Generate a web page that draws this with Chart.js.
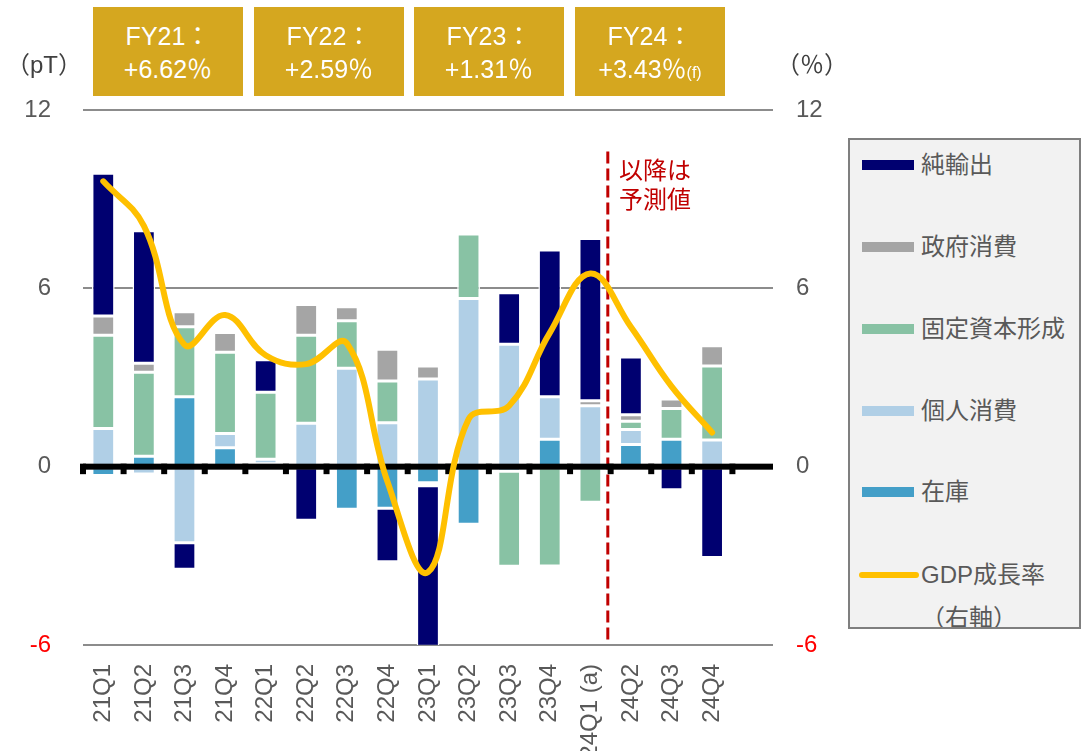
<!DOCTYPE html>
<html><head><meta charset="utf-8">
<script src="https://cdn.jsdelivr.net/npm/chart.js@4.4.1/dist/chart.umd.min.js"></script>
<style>
html,body{margin:0;padding:0;background:#fff;}
body{width:1081px;height:751px;position:relative;overflow:hidden;font-family:"Liberation Sans","Noto Sans CJK JP",sans-serif;}
#c{position:absolute;left:0;top:0;}
.fy{position:absolute;top:7px;width:150px;height:89px;background:#D5A71F;color:#fff;font-size:25px;text-align:center;line-height:33px;padding-top:13px;box-sizing:border-box;white-space:nowrap;}
.fy small{font-size:16px;}
.unit{position:absolute;top:50px;font-size:24px;color:#404040;line-height:30px;white-space:nowrap;}
#legend{position:absolute;left:848px;top:138px;width:233px;height:491px;box-sizing:border-box;border:2px solid #7f7f7f;background:#f2f2f2;overflow:hidden;}
.li{position:absolute;left:0;height:30px;line-height:30px;font-size:24px;color:#595959;white-space:nowrap;}
.sw{position:absolute;left:12px;top:10px;width:52px;height:10px;}
.li span.t{position:absolute;left:71px;top:0;}
.note{position:absolute;left:619px;top:156px;font-size:24px;line-height:29px;color:#C00000;white-space:nowrap;}
</style></head>
<body>
<canvas id="c" width="1081" height="751"></canvas>
<div class="fy" style="left:93px">FY21：<br>+6.62％</div>
<div class="fy" style="left:254px">FY22：<br>+2.59％</div>
<div class="fy" style="left:414px">FY23：<br>+1.31％</div>
<div class="fy" style="left:575px">FY24：<br>+3.43％<small>(f)</small></div>
<div class="unit" style="left:6px">（pT）</div>
<div class="unit" style="left:776px">（％）</div>
<div class="note">以降は<br>予測値</div>
<div id="legend"></div>
<script>
// ---- data ----
const categories = ['21Q1','21Q2','21Q3','21Q4','22Q1','22Q2','22Q3','22Q4','23Q1','23Q2','23Q3','23Q4','24Q1 (a)','24Q2','24Q3','24Q4',''];
const inventory   = [-0.30, 0.35, 2.35, 0.64, 0.10, 0.00, -1.43, -1.40, -0.54, -1.94, -0.15, 0.92, 0.00, 0.75, 0.92, 0.00];
const privateCons = [1.28, -0.25, -2.56, 0.48, 0.15, 1.46, 3.31, 1.48, 2.95, 5.66, 4.12, 1.43, 2.05, 0.50, 0.00, 0.90];
const fixedCap    = [3.14, 2.83, 2.36, 2.73, 2.25, 2.96, 1.60, 1.40, -0.10, 2.17, -3.20, -3.34, -1.20, 0.28, 1.04, 2.49];
const govCons     = [0.65, 0.30, 0.50, 0.66, 0.00, 1.04, 0.47, 1.07, 0.44, 0.00, 0.00, 0.00, 0.17, 0.22, 0.32, 0.68];
const netExports  = [4.80, 4.46, -0.89, 0.00, 1.10, -1.80, 0.00, -1.80, -5.40, 0.00, 1.73, 4.94, 5.46, 1.94, -0.78, -3.06];
const gdpGrowth   = [9.6, 8.1, 4.1, 5.1, 3.75, 3.45, 4.15, -0.5, -3.55, 1.6, 2.05, 4.5, 6.5, 4.7, 2.7, 1.15];
const yTicks = [-6, 0, 6, 12];
const seriesNames = ['在庫','個人消費','固定資本形成','政府消費','純輸出','GDP成長率'];
const colors = {inv:'#449FC8', pc:'#B0CFE6', fc:'#88C2A4', gov:'#A5A5A5', net:'#000070', gdp:'#FFC000'};

const FONT = '"Liberation Sans","Noto Sans CJK JP",sans-serif';
const TXT = '#595959';

// legend (HTML)
const legendItems = [
  {name:'純輸出', c:colors.net, y:165},
  {name:'政府消費', c:colors.gov, y:247},
  {name:'固定資本形成', c:colors.fc, y:329},
  {name:'個人消費', c:colors.pc, y:411},
  {name:'在庫', c:colors.inv, y:492},
];
const lg = document.getElementById('legend');
legendItems.forEach(it=>{
  const d=document.createElement('div'); d.className='li'; d.style.top=(it.y-140-15)+'px';
  d.innerHTML='<div class="sw" style="background:'+it.c+'"></div><span class="t">'+it.name+'</span>';
  lg.appendChild(d);
});
(function(){
  const d=document.createElement('div'); d.className='li'; d.style.top=(575-140-15)+'px';
  d.innerHTML='<div class="sw" style="background:'+colors.gdp+';left:9px;width:60px;height:6px;top:12px;border-radius:3px"></div><span class="t">GDP成長率</span>';
  lg.appendChild(d);
  const e=document.createElement('div'); e.className='li'; e.style.top=(618-140-15)+'px';
  e.innerHTML='<span class="t">（右軸）</span>';
  lg.appendChild(e);
})();

const overlay = {
  id:'overlay',
  beforeDatasetDraw(chart, args){
    if(args.meta.type!=='line') return;
    const ctx=chart.ctx, x=chart.scales.x, y=chart.scales.y;
    const y0=y.getPixelForValue(0);
    ctx.save();
    // forecast divider
    const xa=x.getPixelForValue(12), xb=x.getPixelForValue(13);
    const xd=xa+0.43*(xb-xa);
    ctx.strokeStyle='#C00000'; ctx.lineWidth=3; ctx.setLineDash([12,5]);
    ctx.beginPath(); ctx.moveTo(xd,y.getPixelForValue(10.6)); ctx.lineTo(xd,y.getPixelForValue(-5.85)); ctx.stroke();
    ctx.setLineDash([]);
    // zero line
    ctx.fillStyle='#000';
    ctx.fillRect(x.left, y0-3, x.right-x.left, 6);
    const w=(x.getPixelForValue(1)-x.getPixelForValue(0));
    for(let i=0;i<categories.length;i++){
      const bx=x.getPixelForValue(i)-w/2;
      ctx.fillRect(bx-3, y0-3, 6, 10.5);
    }
    ctx.restore();
  }
};

const barDs = (label, data, color) => ({
  type:'bar', label, data, backgroundColor:color, borderColor:'#ffffff', borderWidth:1.5,
  borderSkipped:false, stack:'s', yAxisID:'y', order:1,
  barPercentage:0.56, categoryPercentage:1.0
});

new Chart(document.getElementById('c'), {
  data:{
    labels:categories,
    datasets:[
      barDs(seriesNames[0], inventory, colors.inv),
      barDs(seriesNames[1], privateCons, colors.pc),
      barDs(seriesNames[2], fixedCap, colors.fc),
      barDs(seriesNames[3], govCons, colors.gov),
      barDs(seriesNames[4], netExports, colors.net),
      {type:'line', label:seriesNames[5], data:gdpGrowth, yAxisID:'y1', borderColor:colors.gdp,
       borderWidth:6, pointRadius:0, tension:0.4, fill:false, order:0, borderCapStyle:'round', borderJoinStyle:'round'}
    ]
  },
  options:{
    responsive:false, animation:false, devicePixelRatio:1,
    layout:{padding:{top:110,left:0,right:0,bottom:0}},
    plugins:{legend:{display:false}, tooltip:{enabled:false}},
    scales:{
      x:{
        stacked:true, offset:true,
        grid:{display:false, drawTicks:false}, border:{display:false},
        ticks:{color:TXT, font:{family:FONT,size:24}, minRotation:90, maxRotation:90, autoSkip:false, padding:19},
        afterFit(s){ s.height=106; }
      },
      y:{
        stacked:true, position:'left', min:-6, max:12,
        afterBuildTicks(s){ s.ticks = yTicks.map(v=>({value:v})); },
        grid:{drawTicks:false, lineWidth:2, color:(c)=> c.tick && c.tick.value===0 ? 'rgba(0,0,0,0)' : '#8c8c8c'},
        border:{display:false},
        ticks:{padding:32, font:{family:FONT,size:24}, color:(c)=> c.tick && c.tick.value<0 ? '#FF0000' : TXT},
        afterFit(s){ s.width=83; }
      },
      y1:{
        position:'right', min:-6, max:12,
        afterBuildTicks(s){ s.ticks = yTicks.map(v=>({value:v})); },
        grid:{display:false, drawTicks:false}, border:{display:false},
        ticks:{padding:23, font:{family:FONT,size:24}, color:(c)=> c.tick && c.tick.value<0 ? '#FF0000' : TXT},
        afterFit(s){ s.width=1081-773; }
      }
    }
  },
  plugins:[overlay]
});
</script>
</body></html>
